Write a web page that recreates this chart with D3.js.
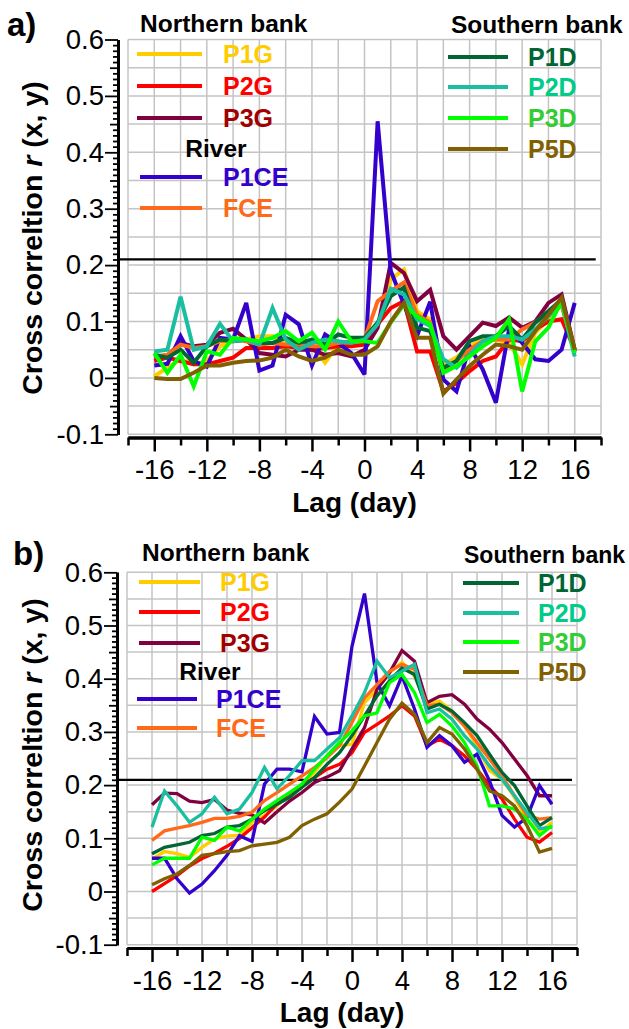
<!DOCTYPE html>
<html><head><meta charset="utf-8">
<script src="https://cdn.jsdelivr.net/npm/d3@7"></script>
<style>
body{margin:0;background:#fff}
svg{display:block}
text{font-family:Arial,"Liberation Sans",Helvetica,sans-serif}
</style>
</head><body>
<svg id="chart" width="629" height="1029"></svg>
<script>
// ---------- data ----------
const lags = [-16,-15,-14,-13,-12,-11,-10,-9,-8,-7,-6,-5,-4,-3,-2,-1,0,1,2,3,4,5,6,7,8,9,10,11,12,13,14,15,16];
const yTickLabels = [-0.1,0,0.1,0.2,0.3,0.4,0.5,0.6];
const xTickLabels = [-16,-12,-8,-4,0,4,8,12,16];
const thresholdR = 0.21;
const seriesNames = ["P1G","P2G","P3G","P1CE","FCE","P1D","P2D","P3D","P5D"];
const northNames = ["P1G","P2G","P3G"];
const riverNames = ["P1CE","FCE"];
const southNames = ["P1D","P2D","P3D","P5D"];

// panel a)
const aP1G  = [0.003,0.018,0.033,0.024,0.030,0.056,0.065,0.068,0.074,0.074,0.062,0.065,0.059,0.027,0.059,0.056,0.062,0.092,0.175,0.192,0.118,0.104,0.024,0.036,0.056,0.068,0.068,0.062,0.024,0.080,0.104,0.130,0.044];
const aP2G  = [0.030,0.036,0.030,0.024,0.024,0.030,0.036,0.053,0.053,0.053,0.056,0.053,0.050,0.053,0.056,0.056,0.059,0.095,0.124,0.136,0.047,0.047,-0.024,-0.009,0.012,0.030,0.038,0.068,0.065,0.086,0.100,0.104,0.050];
const aP3G  = [0.036,0.040,0.062,0.056,0.059,0.080,0.087,0.068,0.044,0.041,0.038,0.050,0.050,0.041,0.044,0.038,0.050,0.089,0.204,0.186,0.136,0.156,0.074,0.050,0.074,0.098,0.092,0.107,0.089,0.100,0.133,0.148,0.050];
const aP1CE = [0.022,0.025,0.074,0.030,0.020,0.071,0.068,0.133,0.013,0.022,0.112,0.095,0.022,0.077,0.062,0.044,0.006,0.455,0.190,0.130,0.075,0.135,-0.003,-0.024,0.056,0.015,-0.044,0.086,0.062,0.033,0.030,0.050,0.133];
const aFCE  = [0.038,0.041,0.059,0.053,0.056,0.065,0.068,0.065,0.059,0.062,0.059,0.059,0.056,0.056,0.062,0.065,0.068,0.136,0.154,0.169,0.112,0.098,0.015,0.030,0.050,0.065,0.068,0.068,0.086,0.098,0.118,0.130,0.047];
const aP1D  = [0.041,0.036,0.050,0.027,0.056,0.068,0.065,0.068,0.062,0.062,0.071,0.062,0.068,0.059,0.077,0.071,0.071,0.098,0.145,0.160,0.089,0.083,0.018,0.030,0.065,0.074,0.074,0.092,0.068,0.098,0.118,0.139,0.047];
const aP2D  = [0.047,0.050,0.144,0.050,0.056,0.096,0.065,0.068,0.059,0.124,0.068,0.050,0.062,0.068,0.065,0.062,0.068,0.095,0.158,0.148,0.104,0.092,0.033,0.018,0.041,0.065,0.074,0.074,0.068,0.086,0.109,0.133,0.038];
const aP3D  = [0.044,0.009,0.041,-0.015,0.047,0.041,0.071,0.068,0.065,0.071,0.083,0.065,0.080,0.050,0.100,0.065,0.065,0.062,0.098,0.130,0.109,0.095,0.009,0.021,0.038,0.056,0.071,0.104,-0.024,0.065,0.089,0.136,0.044];
const aP5D  = [0.000,-0.002,-0.002,0.009,0.022,0.022,0.027,0.030,0.031,0.036,0.050,0.038,0.030,0.036,0.050,0.041,0.041,0.056,0.100,0.133,0.071,0.071,-0.028,-0.003,0.021,0.041,0.059,0.056,0.050,0.083,0.112,0.142,0.050];

// panel b)
const bP1G  = [0.061,0.075,0.071,0.064,0.083,0.099,0.104,0.106,0.130,0.143,0.161,0.183,0.202,0.224,0.255,0.274,0.277,0.355,0.380,0.411,0.431,0.405,0.352,0.358,0.339,0.311,0.274,0.227,0.211,0.177,0.136,0.111,0.130];
const bP2G  = [0.000,0.015,0.030,0.048,0.062,0.072,0.085,0.100,0.120,0.140,0.165,0.185,0.200,0.214,0.230,0.239,0.261,0.299,0.314,0.330,0.349,0.330,0.274,0.286,0.274,0.255,0.230,0.199,0.174,0.136,0.102,0.093,0.111];
const bP3G  = [0.163,0.185,0.184,0.170,0.167,0.173,0.153,0.147,0.144,0.129,0.150,0.170,0.186,0.205,0.215,0.227,0.268,0.308,0.380,0.411,0.453,0.433,0.355,0.367,0.370,0.352,0.324,0.305,0.280,0.249,0.218,0.180,0.180];
const bP1CE = [0.0625,0.0625,0.024,-0.003,0.014,0.039,0.068,0.105,0.094,0.202,0.230,0.230,0.225,0.329,0.296,0.299,0.461,0.560,0.393,0.349,0.405,0.343,0.271,0.293,0.274,0.243,0.258,0.208,0.143,0.121,0.139,0.199,0.164];
const bFCE  = [0.096,0.114,0.119,0.124,0.130,0.1375,0.1375,0.141,0.149,0.171,0.186,0.202,0.2175,0.233,0.252,0.274,0.3175,0.364,0.389,0.414,0.427,0.4175,0.349,0.352,0.336,0.311,0.280,0.249,0.2175,0.180,0.1425,0.136,0.139];
const bP1D  = [0.071,0.083,0.0875,0.0925,0.105,0.109,0.121,0.124,0.136,0.152,0.164,0.177,0.196,0.214,0.239,0.261,0.293,0.330,0.3675,0.396,0.420,0.408,0.343,0.352,0.339,0.3175,0.293,0.258,0.224,0.199,0.161,0.124,0.139];
const bP2D  = [0.121,0.189,0.161,0.130,0.146,0.177,0.146,0.155,0.186,0.233,0.193,0.218,0.246,0.246,0.268,0.289,0.330,0.374,0.433,0.402,0.414,0.427,0.336,0.343,0.324,0.293,0.268,0.236,0.211,0.180,0.149,0.118,0.121];
const bP3D  = [0.050,0.0625,0.0625,0.0625,0.102,0.096,0.121,0.114,0.136,0.155,0.171,0.186,0.202,0.230,0.255,0.280,0.302,0.330,0.336,0.3925,0.408,0.374,0.3175,0.333,0.311,0.280,0.236,0.161,0.161,0.155,0.136,0.105,0.124];
const bP5D  = [0.0125,0.024,0.033,0.049,0.068,0.071,0.075,0.077,0.086,0.089,0.0925,0.102,0.124,0.136,0.146,0.168,0.1925,0.236,0.280,0.324,0.354,0.333,0.280,0.308,0.296,0.268,0.230,0.189,0.180,0.161,0.124,0.074,0.081];

// ---------- styles ----------
const lineColor = {P1G:"#FFCC00",P2G:"#FF0000",P3G:"#800040",P1CE:"#3300CC",FCE:"#FF6A1A",
                   P1D:"#006633",P2D:"#19BFA0",P3D:"#00FF00",P5D:"#806000"};
const textColor = {P1G:"#FFCC00",P2G:"#FF0000",P3G:"#A00000",P1CE:"#3300CC",FCE:"#FF6A1A",
                   P1D:"#006633",P2D:"#00CC88",P3D:"#33CC33",P5D:"#806000"};

const panels = [
  { label:"a)", labelX:7, labelY:36,
    series:{P1G:aP1G,P2G:aP2G,P3G:aP3G,P1CE:aP1CE,FCE:aFCE,P1D:aP1D,P2D:aP2D,P3D:aP3D,P5D:aP5D},
    x0:128, x1:601, yTop:39.5, yBot:434.3, yAxisX:118, xAxisY:437.5, lw:4, legLw:4,
    titleX:42, titleY:238, southSize:24.5,
    north:{tx:140, ty:32, lx0:137, lx1:202, textX:223, rows:[54,86,118]},
    river:{cx:216, cy:148, lx0:140, lx1:202, textX:223, rows:[177,208]},
    south:{tx:451, ty:33, lx0:448, lx1:508, textX:528, rows:[57,87,118,149]} },
  { label:"b)", labelX:13, labelY:565,
    series:{P1G:bP1G,P2G:bP2G,P3G:bP3G,P1CE:bP1CE,FCE:bFCE,P1D:bP1D,P2D:bP2D,P3D:bP3D,P5D:bP5D},
    x0:127, x1:577, yTop:572.3, yBot:944.7, yAxisX:117, xAxisY:948, lw:3.3, legLw:3.8,
    titleX:42, titleY:755, southSize:23,
    north:{tx:142, ty:561, lx0:139, lx1:200, textX:220, rows:[582,612,643]},
    river:{cx:210, cy:671, lx0:137, lx1:197, textX:216, rows:[699,728]},
    south:{tx:464, ty:563, lx0:463, lx1:519, textX:538, rows:[583,613,642,672]} }
];

const svg = d3.select("#chart");
const fmtY = d => d === 0 ? "0" : d.toFixed(1);

panels.forEach(p => {
  const g = svg.append("g");
  const x = d3.scaleLinear().domain([-18, 18]).range([p.x0, p.x1]);
  const y = d3.scaleLinear().domain([-0.1, 0.6]).range([p.yBot, p.yTop]);

  // grid
  const grid = g.append("g").attr("stroke", "#C4C4C4").attr("stroke-width", 1.5);
  grid.selectAll("line.v").data(d3.range(-18, 19, 2)).join("line")
    .attr("x1", d => x(d)).attr("x2", d => x(d)).attr("y1", p.yTop).attr("y2", p.yBot);
  grid.selectAll("line.h").data(d3.range(0, 15).map(i => -0.1 + i * 0.05)).join("line")
    .attr("x1", p.x0).attr("x2", p.x1).attr("y1", d => y(d)).attr("y2", d => y(d));

  // y axis (offset left of frame)
  const yg = g.append("g").attr("transform", `translate(${p.yAxisX},0)`);
  const minorY = d3.range(-10, 61).filter(i => i % 5 !== 0).map(i => i / 100);
  const midY = d3.range(-10, 61).filter(i => i % 5 === 0 && i % 10 !== 0).map(i => i / 100);
  yg.append("g").call(d3.axisLeft(y).tickValues(minorY).tickSize(5).tickFormat("").tickSizeOuter(0));
  yg.append("g").call(d3.axisLeft(y).tickValues(midY).tickSize(8).tickFormat("").tickSizeOuter(0));
  yg.append("g").call(d3.axisLeft(y).tickValues(yTickLabels).tickSize(13).tickPadding(1).tickFormat(fmtY).tickSizeOuter(0));
  yg.selectAll("path.domain").attr("stroke-width", 3).attr("stroke", "#000");
  yg.selectAll(".tick line").attr("stroke-width", 1.8).attr("stroke", "#000");
  yg.selectAll("text").attr("font-size", 27.5).attr("fill", "#000").attr("font-family", "Arial, 'Liberation Sans', sans-serif");

  // x axis
  const xg = g.append("g").attr("transform", `translate(0,${p.xAxisY})`);
  const minorX = d3.range(-18, 19, 4);
  xg.append("g").call(d3.axisBottom(x).tickValues(minorX).tickSize(8).tickFormat("").tickSizeOuter(0));
  xg.append("g").call(d3.axisBottom(x).tickValues(xTickLabels).tickSize(14).tickPadding(8).tickFormat(d => String(d)).tickSizeOuter(0));
  xg.selectAll("path.domain").attr("stroke-width", 3).attr("stroke", "#000");
  xg.selectAll(".tick line").attr("stroke-width", 2.5).attr("stroke", "#000");
  xg.selectAll("text").attr("font-size", 27.5).attr("fill", "#000").attr("font-family", "Arial, 'Liberation Sans', sans-serif");

  // threshold line
  g.append("line").attr("x1", p.yAxisX + 1).attr("x2", x(17.6))
    .attr("y1", y(thresholdR)).attr("y2", y(thresholdR))
    .attr("stroke", "#000").attr("stroke-width", 2.2);

  // series
  const line = d3.line().x((d, i) => x(lags[i])).y(d => y(d));
  seriesNames.forEach(n => {
    g.append("path").datum(p.series[n]).attr("d", line)
      .attr("fill", "none").attr("stroke", lineColor[n]).attr("stroke-width", p.lw)
      .attr("stroke-linejoin", "miter").attr("stroke-miterlimit", 3);
  });

  // axis titles
  g.append("text").attr("x", (p.x0 + p.x1) / 2 - 10).attr("y", p.xAxisY + 74)
    .attr("text-anchor", "middle").attr("font-size", 28).attr("font-weight", "bold")
    .text("Lag (day)");
  const t = g.append("text").attr("transform", `translate(${p.titleX},${p.titleY}) rotate(-90)`)
    .attr("text-anchor", "middle").attr("font-size", 28.5).attr("font-weight", "bold");
  t.append("tspan").text("Cross correltion ");
  t.append("tspan").attr("font-style", "italic").text("r");
  t.append("tspan").text(" (x, y)");

  // panel label
  g.append("text").attr("x", p.labelX).attr("y", p.labelY).attr("font-size", 33)
    .attr("font-weight", "bold").text(p.label);

  // legends
  const leg = g.append("g").attr("font-weight", "bold");
  leg.append("text").attr("x", p.north.tx).attr("y", p.north.ty).attr("font-size", 24.5).text("Northern bank");
  leg.append("text").attr("x", p.south.tx).attr("y", p.south.ty).attr("font-size", p.southSize).text("Southern bank");
  leg.append("text").attr("x", p.river.cx).attr("y", p.river.cy + 9).attr("text-anchor", "middle")
    .attr("font-size", 24.5).text("River");
  const addItem = (n, lx0, lx1, tx, ry) => {
    leg.append("line").attr("x1", lx0).attr("x2", lx1).attr("y1", ry).attr("y2", ry)
      .attr("stroke", lineColor[n]).attr("stroke-width", p.legLw);
    leg.append("text").attr("x", tx).attr("y", ry + 9).attr("font-size", 25)
      .attr("fill", textColor[n]).text(n);
  };
  northNames.forEach((n, i) => addItem(n, p.north.lx0, p.north.lx1, p.north.textX, p.north.rows[i]));
  riverNames.forEach((n, i) => addItem(n, p.river.lx0, p.river.lx1, p.river.textX, p.river.rows[i]));
  southNames.forEach((n, i) => addItem(n, p.south.lx0, p.south.lx1, p.south.textX, p.south.rows[i]));
});
</script>
</body></html>
